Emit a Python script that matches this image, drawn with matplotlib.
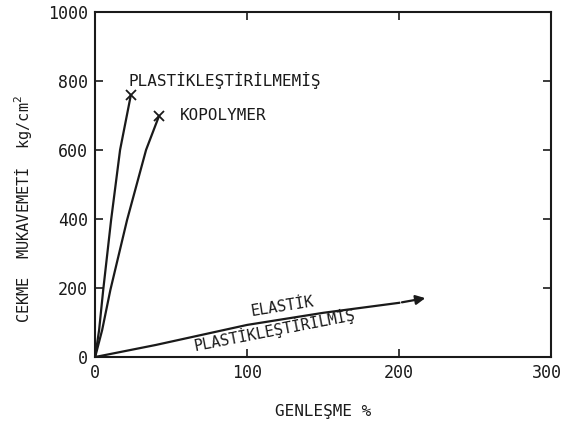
import matplotlib.pyplot as plt
import matplotlib.transforms as mtransforms
import numpy as np

# values
unplast_x = [0, 2.6, 5.3, 10.5, 16.4, 23.5]
unplast_y = [0, 78, 194, 397, 600, 759]
copoly_x = [0, 4.6, 10, 21, 33.5, 42]
copoly_y = [0, 78, 194, 397, 600, 698]
elastic_x = [0, 40, 100, 150, 200, 219]
elastic_y = [0, 35, 93, 128, 157, 172]

xticks = [0, 100, 200, 300]
yticks = [0, 200, 400, 600, 800, 1000]

plt.rcParams['font.family'] = ['DejaVu Sans Mono']
fig = plt.figure(figsize=(5.63, 4.22), dpi=100)
ax = fig.add_axes([0.169, 0.154, 0.81, 0.818])

col = '#1a1a1a'
ax.plot(unplast_x, unplast_y, color=col, lw=1.6)
ax.plot(copoly_x, copoly_y, color=col, lw=1.6)
ax.plot(unplast_x[-1], unplast_y[-1], marker='x', color=col, ms=7, mew=1.3)
ax.plot(copoly_x[-1], copoly_y[-1], marker='x', color=col, ms=7, mew=1.3)
ax.plot(elastic_x[:-1], elastic_y[:-1], color=col, lw=1.6)
ax.annotate('', xy=(elastic_x[-1], elastic_y[-1]), xytext=(elastic_x[-2], elastic_y[-2]),
            arrowprops=dict(arrowstyle='-|>', color=col, lw=1.6, mutation_scale=14))

ax.text(22, 800, 'PLASTİKLEŞTİRİLMEMİŞ', fontsize=11.5, color=col, va='center')
ax.text(56, 700, 'KOPOLYMER', fontsize=11.5, color=col, va='center')
ax.text(123, 147, 'ELASTİK', fontsize=11, color=col, ha='center', va='center', rotation=9)
ax.text(118, 78, 'PLASTİKLEŞTİRİLMİŞ', fontsize=11, color=col, ha='center', va='center', rotation=11)

ax.set_xlim(0, 300)
ax.set_ylim(0, 1000)
ax.set_xticks(xticks)
ax.set_yticks(yticks)
ax.tick_params(direction='in', length=6, width=1.2, top=True, right=True,
               labelsize=12, colors=col, pad=5)
# last x label sits at the right edge of the figure, keep it inside
last = ax.get_xticklabels()[-1]
last.set_ha('right')
last.set_transform(last.get_transform() +
                   mtransforms.ScaledTranslation(0.11, 0, fig.dpi_scale_trans))
for s in ax.spines.values():
    s.set_linewidth(1.5)
    s.set_color(col)

ax.set_xlabel('GENLEŞME %', fontsize=11.5, color=col)
ax.xaxis.set_label_coords(0.5, -0.135)
ax.set_ylabel('CEKME  MUKAVEMETİ  kg/cm$^2$', fontsize=11, color=col)
ax.yaxis.set_label_coords(-0.135, 0.43)

fig.savefig('out.png', dpi=100)
